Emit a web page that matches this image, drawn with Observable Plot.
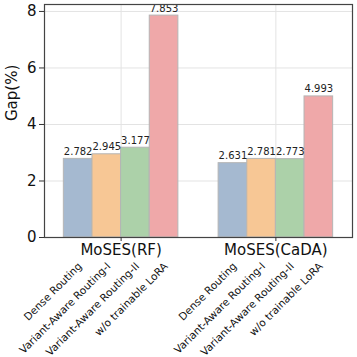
<!DOCTYPE html>
<html>
<head>
<meta charset="utf-8">
<script src="https://cdn.jsdelivr.net/npm/d3@7"></script>
<script src="https://cdn.jsdelivr.net/npm/@observablehq/plot@0.6"></script>
<style>
  html, body { margin: 0; padding: 0; background: #fff; }
  #chart { width: 357px; height: 357px; }
</style>
</head>
<body>
<div id="chart"></div>
<script>
const groups = ["MoSES(RF)", "MoSES(CaDA)"];
const methods = ["Dense Routing", "Variant-Aware Routing-I", "Variant-Aware Routing-II", "w/o trainable LoRA"];
const rfValues = [2.782, 2.945, 3.177, 7.853];
const cadaValues = [2.631, 2.781, 2.773, 4.993];
const yTicks = [0, 2, 4, 6, 8];
const barColors = ["#a5b9d0", "#f7c795", "#acd1a9", "#efa8a9"];

const seriesByGroup = [rfValues, cadaValues];
const barW = 0.185;
const rows = [];
groups.forEach((g, gi) => {
  methods.forEach((m, mi) => {
    const x1 = gi + (mi - 2) * barW;
    rows.push({group: g, method: m, value: seriesByGroup[gi][mi], x1, x2: x1 + barW, xc: x1 + barW / 2});
  });
});

const font = "'DejaVu Sans', sans-serif";
const chart = Plot.plot({
  width: 357,
  height: 357,
  marginLeft: 44,
  marginRight: 5,
  marginTop: 4,
  marginBottom: 120,
  style: {fontFamily: font, background: "#fff"},
  x: {domain: [-0.495, 1.495]},
  y: {domain: [0, 7.853 * 1.05]},
  color: {domain: methods, range: barColors},
  marks: [
    Plot.gridY(yTicks, {stroke: "#e3e3e3", strokeOpacity: 1}),
    Plot.gridX([0, 1], {stroke: "#e3e3e3", strokeOpacity: 1}),
    Plot.rectY(rows, {x1: "x1", x2: "x2", y1: 0, y2: "value", fill: "method", stroke: "#b5b5b5", strokeWidth: 1}),
    Plot.text(rows, {x: "xc", y: "value", text: d => d.value.toFixed(3), dy: -4, lineAnchor: "bottom", fontSize: 10, fill: "#222"}),
    Plot.frame({stroke: "#444", strokeWidth: 1.2}),
    Plot.axisY(yTicks, {tickSize: 5, tickPadding: 3, fontSize: 15, label: null, stroke: "#333", fill: "#111"}),
    Plot.text(["Gap(%)"], {frameAnchor: "left", dx: -32, rotate: -90, fontSize: 15, fill: "#111"}),
    Plot.axisX([0, 1], {tickSize: 4, tickPadding: 3, fontSize: 15, label: null, stroke: "#333", fill: "#111", tickFormat: i => groups[i]}),
    Plot.text(rows, {x: "xc", y: 0, text: "method", rotate: -45, textAnchor: "end", lineAnchor: "middle", dy: 27, dx: 2, fontSize: 10.5, fill: "#111"})
  ]
});
document.getElementById("chart").appendChild(chart);
</script>
</body>
</html>
